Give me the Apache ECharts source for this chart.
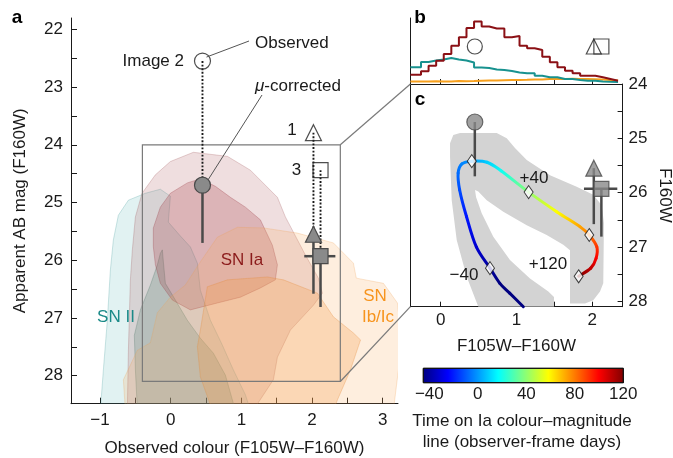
<!DOCTYPE html>
<html>
<head>
<meta charset="utf-8">
<script src="https://cdn.jsdelivr.net/npm/echarts@6/dist/echarts.min.js"></script>
<style>
  html, body { margin: 0; padding: 0; background: #fff; }
  #main { width: 673px; height: 458px; }
</style>
</head>
<body>
<div id="main"></div>
<script>
// ---------------- data ----------------
// Photometry of the three images: index 0 = image 1, 1 = image 2, 2 = image 3
const imageNames = ['1', '2', '3'];
const imageColour = [2.02, 0.45, 2.12];
const observedMag = [23.79, 22.55, 24.44];
const correctedMag = [25.55, 24.70, 25.93];
const correctedMagFaint = [26.58, 25.70, 26.81];
const image3ColourRange = [1.89, 2.33];

// Simulated transient populations, contour polygons as [colour, mag]
const snIIOuter = [[-0.995, 28.6], [-0.952, 27.90], [-0.896, 27.04], [-0.853, 26.17], [-0.811, 25.65], [-0.740, 25.22],
  [-0.598, 24.96], [-0.358, 24.84], [-0.146, 24.77], [-0.004, 24.89], [-0.033, 25.34], [0.137, 25.58], [0.279, 25.77],
  [0.378, 26.05], [0.420, 26.52], [0.562, 27.04], [0.731, 27.47], [0.887, 27.90], [1.057, 28.33], [1.128, 28.6]];
const snIIInner = [[-0.471, 28.6], [-0.499, 27.90], [-0.514, 27.30], [-0.429, 26.86], [-0.287, 26.43], [-0.188, 26.08],
  [-0.146, 25.88], [-0.118, 25.82], [-0.103, 26.03], [-0.075, 26.40], [0.067, 26.69], [0.236, 27.04], [0.420, 27.35],
  [0.604, 27.61], [0.774, 27.99], [0.915, 28.6]];
const snIaOuter = [[-0.613, 28.6], [-0.598, 27.56], [-0.570, 26.34], [-0.542, 25.82], [-0.499, 25.25], [-0.405, 24.84],
  [-0.216, 24.52], [-0.004, 24.29], [0.321, 24.13], [0.802, 24.20], [1.128, 24.44], [1.510, 24.91], [1.623, 25.25],
  [1.722, 25.48], [1.906, 25.91], [2.090, 26.31], [2.146, 26.57], [2.019, 26.78], [1.694, 27.21], [1.510, 27.68],
  [1.453, 28.07], [1.227, 28.49], [1.199, 28.6]];
const snIaInner = [[-0.245, 25.77], [-0.245, 25.44], [-0.146, 25.08], [-0.004, 24.84], [0.236, 24.66], [0.420, 24.59],
  [0.633, 24.72], [0.845, 24.91], [1.057, 25.08], [1.269, 25.30], [1.439, 25.74], [1.510, 26.08], [1.481, 26.34],
  [1.269, 26.48], [0.986, 26.64], [0.661, 26.74], [0.279, 26.86], [0.024, 26.69], [-0.146, 26.40], [-0.216, 26.08]];
const snIbcOuter = [[0.661, 25.60], [0.944, 25.43], [1.312, 25.44], [1.793, 25.53], [2.302, 25.70], [2.585, 26.05],
  [2.626, 26.31], [3.010, 26.40], [3.208, 26.74], [3.250, 27.21], [3.222, 27.90], [3.151, 28.6], [-0.641, 28.6],
  [-0.669, 28.07], [-0.471, 27.56], [-0.287, 27.43], [-0.188, 26.91], [-0.004, 26.64], [0.208, 26.43], [0.420, 26.03]];
const snIbcInner = [[0.519, 26.46], [0.802, 26.34], [1.368, 26.29], [1.595, 26.34], [2.076, 26.57], [2.302, 26.98],
  [2.585, 27.26], [2.686, 27.38], [2.543, 27.90], [2.359, 28.42], [2.302, 28.6], [0.590, 28.6], [0.420, 28.02],
  [0.378, 27.50], [0.420, 27.21]];

// Zoomed region shown in panel c
const zoomColour = [-0.4, 2.4];
const zoomMag = [24.0, 28.1];

// Panel b: colour histograms (bin edges, heights per bin)
const histEdges = [-0.40, -0.26, -0.16, -0.06, 0.04, 0.14, 0.24, 0.34, 0.44, 0.54, 0.64, 0.74, 0.84, 0.94,
  1.04, 1.14, 1.24, 1.34, 1.44, 1.54, 1.64, 1.74, 1.84, 1.94, 2.04, 2.14, 2.24, 2.34];
const histIa = [9.3, 12.7, 18.3, 23.3, 30, 38.3, 46.7, 56, 62.5, 57.5, 55.5, 55.5, 46.7, 48, 38.3, 35.7, 34,
  27.3, 21.7, 16.7, 13.3, 10.7, 8.3, 8.3, 6.7, 5, 3.3];
const histII = [16.7, 22, 23.5, 24.5, 26, 24.5, 23.5, 21.5, 16.5, 16, 14.5, 14, 13, 11.5, 10.7, 10.7, 8.3, 6.7,
  6.7, 5, 5, 4, 3.3, 3.3, 2.5, 2.2, 2];
const histIbc = [2.5, 2.5, 2.8, 2.5, 2.5, 3, 2.8, 3, 3.3, 3.5, 3.5, 3.8, 4, 4, 4.2, 4.5, 4.5, 5, 5, 5, 5.3, 5,
  5, 4.8, 4.5, 4, 3.5];

// Panel c: Ia colour–magnitude track (colour, mag, observer-frame day)
const trackColour = [1.09, 0.91, 0.78, 0.65, 0.47, 0.34, 0.25, 0.23, 0.28, 0.41, 0.61, 0.80, 1.16, 1.53, 1.84,
  1.96, 2.06, 2.05, 1.98, 1.82];
const trackMag = [28.10, 27.85, 27.67, 27.39, 27.00, 26.44, 25.95, 25.64, 25.47, 25.42, 25.44, 25.60, 25.99,
  26.35, 26.63, 26.78, 27.00, 27.21, 27.39, 27.54];
const trackDay = [-57, -50, -46, -40, -32, -21, -12, -7, -3, 0, 9, 19, 40, 58, 73, 80, 91, 100, 109, 120];
const markedDays = [-40, 0, 40, 80, 120];

// Uncertainty band around the track [colour, mag]
const trackBand = [[0.496, 28.1], [0.343, 27.55], [0.211, 26.87], [0.145, 26.14], [0.123, 25.34], [0.123, 25.09],
  [0.166, 24.94], [0.255, 24.90], [0.739, 24.90], [0.871, 25.00], [0.980, 25.18], [1.135, 25.40], [1.442, 25.68],
  [1.794, 25.89], [2.013, 26.04], [2.124, 26.23], [2.154, 26.56], [2.145, 27.67], [2.102, 27.82], [2.013, 27.98],
  [1.904, 28.04], [1.706, 28.04], [1.706, 27.06], [1.617, 26.96], [1.398, 26.78], [1.135, 26.60], [0.826, 26.35],
  [0.607, 26.14], [0.496, 25.98], [0.453, 25.95], [0.466, 26.08], [0.541, 26.38], [0.694, 26.81], [0.914, 27.24],
  [1.178, 27.58], [1.420, 27.82], [1.495, 27.92], [1.495, 28.1]];

// Colour bar
const colourbarDays = [-45, 120];
const colourbarTicks = [-40, 0, 40, 80, 120];

// ---------------- helpers ----------------
const FONT = '"Liberation Sans", Arial, Helvetica, sans-serif';
const INK = '#1a1a1a';
const GREY_FILL = '#8a8a8a';
const GREY_EDGE = '#4a4a4a';
const IA_RED = '#8b1015', II_TEAL = '#18928f', IBC_ORANGE = '#f7a01d';

const fmtNum = v => (v < 0 ? '\u2212' + Math.abs(v) : String(v));
const range = (a, b, s) => { const out = []; for (let v = a; v <= b + 1e-9; v += s) out.push(+v.toFixed(3)); return out; };

function jet(v) {
  v = Math.max(0, Math.min(1, v));
  const c = x => Math.round(255 * Math.max(0, Math.min(1, x)));
  return 'rgb(' + c(1.5 - Math.abs(4 * v - 3)) + ',' + c(1.5 - Math.abs(4 * v - 2)) + ',' + c(1.5 - Math.abs(4 * v - 1)) + ')';
}
const dayNorm = d => (d - colourbarDays[0]) / (colourbarDays[1] - colourbarDays[0]);

function polygonSeries(points, xi, yi, fill, stroke) {
  return {
    type: 'custom', xAxisIndex: xi, yAxisIndex: yi, clip: true, silent: true,
    data: points, encode: { x: 0, y: 1 },
    renderItem(params, api) {
      if (params.dataIndex !== 0) return;
      return {
        type: 'polygon',
        shape: { points: points.map(p => api.coord(p)) },
        style: { fill: fill, stroke: stroke || null, lineWidth: 1 }
      };
    }
  };
}

function segmentSeries(rows, xi, yi, style, horizontal) {
  return {
    type: 'custom', xAxisIndex: xi, yAxisIndex: yi, silent: true,
    data: rows, encode: horizontal ? { y: 0, x: [1, 2] } : { x: 0, y: [1, 2] },
    renderItem(params, api) {
      const a = horizontal ? api.coord([api.value(1), api.value(0)]) : api.coord([api.value(0), api.value(1)]);
      const b = horizontal ? api.coord([api.value(2), api.value(0)]) : api.coord([api.value(0), api.value(2)]);
      return { type: 'line', shape: { x1: a[0], y1: a[1], x2: b[0], y2: b[1] }, style: Object.assign({ fill: null }, style) };
    }
  };
}

const imageSymbols = ['triangle', 'circle', 'rect'];
const imageSymbolSize = [16, 16, 15];

function markerData(colours, mags) {
  return colours.map((c, i) => ({ value: [c, mags[i]], symbol: imageSymbols[i], symbolSize: imageSymbolSize[i] }));
}

const stepData = vals => histEdges.map((e, i) => [e, vals[Math.min(i, vals.length - 1)]]);

const axisLineStyle = { color: INK, width: 1 };
const labelStyle = { fontSize: 17, color: INK, fontFamily: FONT };
const nameStyle = { fontSize: 17, color: INK, fontFamily: FONT };

// ---------------- chart ----------------
const chart = echarts.init(document.getElementById('main'), null, { renderer: 'canvas' });

const option = {
  backgroundColor: '#fff',
  animation: false,
  textStyle: { fontFamily: FONT },
  grid: [
    { left: 71, right: 275, top: 18, bottom: 54.3, outerBoundsMode: 'none' },
    { left: 410.4, right: 50.4, top: 18, bottom: 374, outerBoundsMode: 'none' },
    { left: 410.4, right: 50.4, top: 84, bottom: 151.3, outerBoundsMode: 'none' },
    { left: 423.3, right: 49.7, top: 368.3, bottom: 75.3, outerBoundsMode: 'none' }
  ],
  xAxis: [
    {
      gridIndex: 0, type: 'value', min: -1.41, max: 3.216,
      axisLine: { show: true, onZero: false, lineStyle: axisLineStyle },
      axisTick: { show: true, inside: true, length: 6, customValues: range(-1, 3, 0.5), lineStyle: axisLineStyle },
      axisLabel: Object.assign({ customValues: [-1, 0, 1, 2, 3], formatter: fmtNum, margin: 8 }, labelStyle),
      splitLine: { show: false },
      name: 'Observed colour (F105W\u2013F160W)', nameLocation: 'middle', nameGap: 36, nameTextStyle: nameStyle
    },
    {
      gridIndex: 1, type: 'value', min: zoomColour[0], max: zoomColour[1],
      axisLine: { show: true, onZero: false, lineStyle: axisLineStyle },
      axisTick: { show: true, inside: true, length: 5, customValues: range(0, 2, 0.5), lineStyle: axisLineStyle },
      axisLabel: { show: false }, splitLine: { show: false }
    },
    {
      gridIndex: 2, type: 'value', min: zoomColour[0], max: zoomColour[1],
      axisLine: { show: true, onZero: false, lineStyle: axisLineStyle },
      axisTick: { show: true, inside: true, length: 5, customValues: range(0, 2, 0.5), lineStyle: axisLineStyle },
      axisLabel: Object.assign({ customValues: [0, 1, 2], formatter: fmtNum, margin: 5 }, labelStyle),
      splitLine: { show: false },
      name: 'F105W\u2013F160W', nameLocation: 'middle', nameGap: 31, nameTextStyle: nameStyle
    },
    {
      gridIndex: 3, type: 'value', min: colourbarDays[0], max: colourbarDays[1],
      axisLine: { show: false },
      axisTick: { show: true, inside: true, length: 4, customValues: colourbarTicks, lineStyle: { color: INK, width: 1 } },
      axisLabel: Object.assign({ customValues: colourbarTicks, formatter: fmtNum, margin: 3 }, labelStyle),
      splitLine: { show: false }
    }
  ],
  yAxis: [
    {
      gridIndex: 0, type: 'value', inverse: true, min: 21.804, max: 28.485,
      axisLine: { show: true, onZero: false, lineStyle: axisLineStyle },
      axisTick: { show: true, inside: true, length: 6, customValues: range(22, 28, 0.5), lineStyle: axisLineStyle },
      axisLabel: Object.assign({ customValues: range(22, 28, 1), margin: 8 }, labelStyle),
      splitLine: { show: false },
      name: 'Apparent AB mag (F160W)', nameLocation: 'middle', nameGap: 42, nameRotate: 90, nameTextStyle: nameStyle
    },
    {
      gridIndex: 1, type: 'value', min: 0, max: 66,
      axisLine: { show: true, onZero: false, lineStyle: axisLineStyle },
      axisTick: { show: false }, axisLabel: { show: false }, splitLine: { show: false }
    },
    {
      gridIndex: 2, type: 'value', inverse: true, min: zoomMag[0], max: zoomMag[1], position: 'right',
      axisLine: { show: true, onZero: false, lineStyle: axisLineStyle },
      axisTick: { show: true, inside: true, length: 5, customValues: range(24, 28, 0.5), lineStyle: axisLineStyle },
      axisLabel: Object.assign({ customValues: range(24, 28, 1), margin: 6 }, labelStyle),
      splitLine: { show: false },
      name: 'F160W', nameLocation: 'middle', nameGap: 34, nameRotate: -90, nameTextStyle: nameStyle
    },
    {
      gridIndex: 2, type: 'value', inverse: true, min: zoomMag[0], max: zoomMag[1], position: 'left',
      axisLine: { show: true, onZero: false, lineStyle: axisLineStyle },
      axisTick: { show: false }, axisLabel: { show: false }, splitLine: { show: false }
    },
    { gridIndex: 3, type: 'value', min: 0, max: 1, show: false }
  ],
  series: [
    // ---- panel a: population contours
    polygonSeries(snIIOuter, 0, 0, 'rgba(95,185,185,0.19)', 'rgba(60,150,150,0.25)'),
    polygonSeries(snIIInner, 0, 0, 'rgba(60,140,115,0.24)', 'rgba(50,120,100,0.28)'),
    polygonSeries(snIaOuter, 0, 0, 'rgba(175,90,95,0.2)', 'rgba(160,80,85,0.26)'),
    polygonSeries(snIaInner, 0, 0, 'rgba(165,55,65,0.25)', 'rgba(150,50,60,0.28)'),
    polygonSeries(snIbcOuter, 0, 0, 'rgba(250,170,90,0.2)', 'rgba(240,160,80,0.25)'),
    polygonSeries(snIbcInner, 0, 0, 'rgba(245,155,70,0.27)', 'rgba(230,140,60,0.3)'),
    // zoom box
    {
      type: 'custom', xAxisIndex: 0, yAxisIndex: 0, silent: true,
      data: [[zoomColour[0], zoomMag[0], zoomColour[1], zoomMag[1]]],
      renderItem(params, api) {
        const p0 = api.coord([api.value(0), api.value(1)]);
        const p1 = api.coord([api.value(2), api.value(3)]);
        return {
          type: 'rect',
          shape: { x: p0[0], y: p0[1], width: p1[0] - p0[0], height: p1[1] - p0[1] },
          style: { fill: null, stroke: '#7a7a7a', lineWidth: 1.2 }
        };
      }
    },
    // observed -> corrected (dotted)
    segmentSeries(imageColour.map((c, i) => [c, observedMag[i], correctedMag[i]]), 0, 0,
      { stroke: '#1a1a1a', lineWidth: 1.9, lineDash: [1.9, 1.7], lineCap: 'butt' }),
    // magnitude error bars
    segmentSeries(imageColour.map((c, i) => [c, correctedMag[i], correctedMagFaint[i]]), 0, 0,
      { stroke: GREY_EDGE, lineWidth: 2.5 }),
    segmentSeries([[correctedMag[2], image3ColourRange[0], image3ColourRange[1]]], 0, 0,
      { stroke: GREY_EDGE, lineWidth: 2.5 }, true),
    {
      type: 'scatter', xAxisIndex: 0, yAxisIndex: 0, silent: true,
      data: markerData(imageColour, observedMag),
      itemStyle: { color: 'rgba(255,255,255,0)', borderColor: '#222', borderWidth: 1.2 }
    },
    {
      type: 'scatter', xAxisIndex: 0, yAxisIndex: 0, silent: true,
      data: markerData(imageColour, correctedMag),
      itemStyle: { color: GREY_FILL, borderColor: GREY_EDGE, borderWidth: 1.2, opacity: 1 }
    },
    // ---- panel b: colour histograms
    {
      type: 'line', xAxisIndex: 1, yAxisIndex: 1, step: 'end', showSymbol: false, silent: true,
      data: stepData(histIbc), lineStyle: { color: IBC_ORANGE, width: 2 }
    },
    {
      type: 'line', xAxisIndex: 1, yAxisIndex: 1, step: 'end', showSymbol: false, silent: true,
      data: stepData(histII), lineStyle: { color: II_TEAL, width: 2 }
    },
    {
      type: 'line', xAxisIndex: 1, yAxisIndex: 1, step: 'end', showSymbol: false, silent: true,
      data: stepData(histIa), lineStyle: { color: IA_RED, width: 2 }
    },
    {
      type: 'scatter', xAxisIndex: 1, yAxisIndex: 1, silent: true,
      data: markerData(imageColour, imageColour.map(() => 37.5)).map(d => Object.assign(d, { symbolSize: 15 })),
      itemStyle: { color: 'rgba(255,255,255,0)', borderColor: '#222', borderWidth: 1.2 }
    },
    // ---- panel c: Ia track
    polygonSeries(trackBand, 2, 2, '#d3d3d3', null),
    {
      type: 'custom', xAxisIndex: 2, yAxisIndex: 2, silent: true,
      data: trackColour.map((c, i) => [c, trackMag[i], trackDay[i]]), encode: { x: 0, y: 1 },
      renderItem(params, api) {
        const i = params.dataIndex, n = trackColour.length;
        if (i >= n - 1) return;
        const P = k => api.coord([trackColour[Math.max(0, Math.min(n - 1, k))], trackMag[Math.max(0, Math.min(n - 1, k))]]);
        const p0 = P(i - 1), p1 = P(i), p2 = P(i + 1), p3 = P(i + 2);
        return {
          type: 'bezierCurve',
          shape: {
            x1: p1[0], y1: p1[1], x2: p2[0], y2: p2[1],
            cpx1: p1[0] + (p2[0] - p0[0]) / 6, cpy1: p1[1] + (p2[1] - p0[1]) / 6,
            cpx2: p2[0] - (p3[0] - p1[0]) / 6, cpy2: p2[1] - (p3[1] - p1[1]) / 6
          },
          style: {
            fill: null, lineWidth: 3, lineCap: 'round',
            stroke: {
              type: 'linear', global: true, x: p1[0], y: p1[1], x2: p2[0], y2: p2[1] + 0.001,
              colorStops: [
                { offset: 0, color: jet(dayNorm(trackDay[i])) },
                { offset: 1, color: jet(dayNorm(trackDay[i + 1])) }
              ]
            }
          }
        };
      }
    },
    segmentSeries(imageColour.map((c, i) => [c, correctedMag[i], correctedMagFaint[i]]), 2, 2,
      { stroke: GREY_EDGE, lineWidth: 2.5 }),
    segmentSeries([[correctedMag[2], image3ColourRange[0], image3ColourRange[1]]], 2, 2,
      { stroke: GREY_EDGE, lineWidth: 2.5 }, true),
    {
      type: 'scatter', xAxisIndex: 2, yAxisIndex: 2, silent: true, symbol: 'diamond', symbolSize: [9, 13],
      data: trackDay.map((d, i) => [trackColour[i], trackMag[i], d]).filter(r => markedDays.indexOf(r[2]) >= 0),
      itemStyle: { color: '#fff', borderColor: '#111', borderWidth: 1 }
    },
    {
      type: 'scatter', xAxisIndex: 2, yAxisIndex: 2, silent: true,
      data: markerData(imageColour, correctedMag),
      itemStyle: { color: GREY_FILL, borderColor: GREY_EDGE, borderWidth: 1.2 }
    },
    // ---- colour bar
    {
      type: 'custom', xAxisIndex: 3, yAxisIndex: 4, silent: true,
      data: [[colourbarDays[0], colourbarDays[1]]], encode: { x: [0, 1] },
      renderItem(params, api) {
        const a = api.coord([api.value(0), 0]);
        const b = api.coord([api.value(1), 1]);
        const stops = [];
        for (let k = 0; k <= 16; k++) stops.push({ offset: k / 16, color: jet(k / 16) });
        return {
          type: 'rect',
          shape: { x: a[0], y: b[1], width: b[0] - a[0], height: a[1] - b[1] },
          style: {
            fill: { type: 'linear', x: 0, y: 0, x2: 1, y2: 0, colorStops: stops },
            stroke: '#111', lineWidth: 1
          }
        };
      }
    }
  ]
};

chart.setOption(option);

// ---- annotations and connector lines
function txt(id, text, x, y, opts) {
  return {
    type: 'text', id: id, x: x, y: y, silent: true, z: 20,
    style: Object.assign({
      text: text, fill: INK, fontSize: 17, fontFamily: FONT, align: 'center', verticalAlign: 'middle'
    }, opts || {})
  };
}
function seg(id, a, b, stroke, width) {
  return {
    type: 'line', id: id, silent: true, z: 5,
    shape: { x1: a[0], y1: a[1], x2: b[0], y2: b[1] },
    style: { stroke: stroke, lineWidth: width }
  };
}

const boxTR = chart.convertToPixel({ gridIndex: 0 }, [zoomColour[1], zoomMag[0]]);
const boxBR = chart.convertToPixel({ gridIndex: 0 }, [zoomColour[1], zoomMag[1]]);
const cTL = chart.convertToPixel({ gridIndex: 2 }, [zoomColour[0], zoomMag[0]]);
const cBL = chart.convertToPixel({ gridIndex: 2 }, [zoomColour[0], zoomMag[1]]);
const obs2 = chart.convertToPixel({ gridIndex: 0 }, [imageColour[1], observedMag[1]]);
const cor2 = chart.convertToPixel({ gridIndex: 0 }, [imageColour[1], correctedMag[1]]);

chart.setOption({
  graphic: [
    seg('linkTop', boxTR, cTL, '#7a7a7a', 1.2),
    seg('linkBottom', boxBR, cBL, '#7a7a7a', 1.2),
    seg('leadObs', [obs2[0] + 4, obs2[1] - 4], [249, 41], '#555', 1),
    seg('leadCor', [cor2[0] + 6, cor2[1] - 6], [262, 95], '#555', 1),
    txt('labA', 'a', 17, 18, { fontWeight: 'bold', fontSize: 19, fill: '#000' }),
    txt('labB', 'b', 420, 18, { fontWeight: 'bold', fontSize: 19, fill: '#000' }),
    txt('labC', 'c', 420, 100, { fontWeight: 'bold', fontSize: 19, fill: '#000' }),
    txt('img2', 'Image 2', 184, 61, { align: 'right' }),
    txt('observed', 'Observed', 255, 43, { align: 'left' }),
    txt('corrected', '{m|\u03bc}-corrected', 255, 86, {
      align: 'left', rich: { m: { fontStyle: 'italic', fontSize: 17, fontFamily: FONT, fill: INK } }
    }),
    txt('img1', imageNames[0], 292, 130),
    txt('img3', imageNames[2], 296.5, 170),
    txt('snIa', 'SN Ia', 242, 260, { fill: '#8b1a1a' }),
    txt('snII', 'SN II', 116, 317, { fill: '#1a8a88' }),
    txt('snIbc1', 'SN', 375, 296, { fill: '#f7941d' }),
    txt('snIbc2', 'Ib/Ic', 378, 317.5, { fill: '#f7941d' }),
    txt('day40', '+40', 534, 178.5),
    txt('day120', '+120', 548, 264.5),
    txt('dayM40', '\u221240', 464, 275),
    txt('cbTitle', 'Time on Ia colour\u2013magnitude\nline (observer-frame days)', 522, 431.5, { lineHeight: 20.7 })
  ]
});
</script>
</body>
</html>
